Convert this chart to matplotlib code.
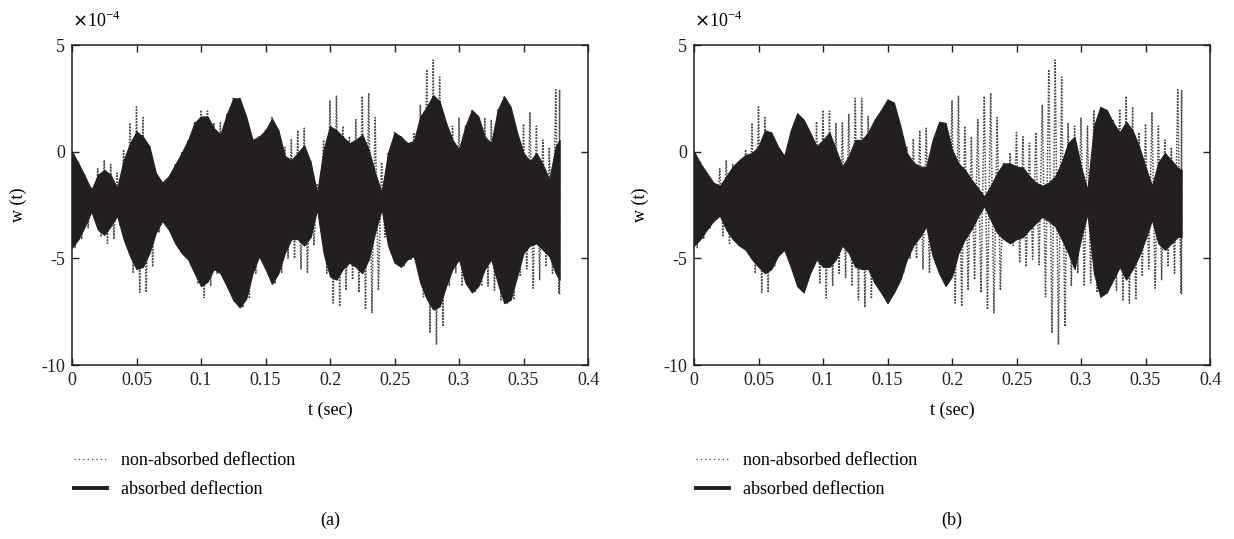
import numpy as np
import matplotlib
matplotlib.use("Agg")
import matplotlib.pyplot as plt
from matplotlib.lines import Line2D

plt.rcParams['font.family'] = ['Liberation Serif', 'DejaVu Serif']
plt.rcParams['axes.unicode_minus'] = False

# time grid (sec)
t_grid = [0.000, 0.005, 0.010, 0.015, 0.020, 0.025, 0.030, 0.035, 0.040, 0.045,
          0.050, 0.055, 0.060, 0.065, 0.070, 0.075, 0.080, 0.085, 0.090, 0.095,
          0.100, 0.105, 0.110, 0.115, 0.120, 0.125, 0.130, 0.135, 0.140, 0.145,
          0.150, 0.155, 0.160, 0.165, 0.170, 0.175, 0.180, 0.185, 0.190, 0.195,
          0.200, 0.205, 0.210, 0.215, 0.220, 0.225, 0.230, 0.235, 0.240, 0.245,
          0.250, 0.255, 0.260, 0.265, 0.270, 0.275, 0.280, 0.285, 0.290, 0.295,
          0.300, 0.305, 0.310, 0.315, 0.320, 0.325, 0.330, 0.335, 0.340, 0.345,
          0.350, 0.355, 0.360, 0.365, 0.370, 0.375, 0.378]

# non-absorbed deflection: envelope peaks / troughs (x1e-4)
nonabs_upper = [0.0, -0.5, -1.1, -1.7, -0.8, -0.4, -0.6, -1.0, 0.1, 1.35,
                2.1, 1.6, 0.3, -1.0, -1.45, -1.15, -0.6, -0.05, 0.55, 1.4,
                1.95, 1.9, 1.35, 1.35, 1.75, 2.5, 2.5, 1.65, 0.55, 0.7,
                1.0, 1.6, 1.0, 0.2, 0.6, 1.0, 1.1, -0.4, -1.5, 0.55,
                2.4, 2.6, 1.2, 0.7, 1.5, 2.6, 2.75, 1.6, -0.5, -0.05,
                0.9, 0.7, 0.4, 0.9, 2.2, 3.85, 4.3, 3.5, 1.35, 1.2,
                1.6, 1.2, 1.95, 1.65, 1.6, 1.5, 2.0, 2.6, 2.1, 0.9,
                1.3, 1.85, 1.2, 0.55, 0.2, 2.9, 2.9]
nonabs_lower = [-4.5, -4.1, -3.6, -2.9, -4.0, -4.3, -4.1, -3.5, -4.2, -5.7,
                -6.6, -6.6, -5.4, -3.8, -3.25, -3.65, -4.3, -4.75, -5.1, -6.2,
                -6.85, -6.3, -5.7, -5.9, -6.3, -6.95, -7.3, -6.9, -5.7, -4.9,
                -5.5, -6.2, -5.7, -5.0, -5.0, -5.5, -5.7, -4.4, -2.9, -5.7,
                -7.1, -7.25, -6.5, -6.0, -6.6, -7.4, -7.55, -6.5, -4.0, -4.4,
                -5.2, -5.4, -5.05, -5.3, -6.8, -8.5, -9.05, -8.2, -6.3, -5.7,
                -6.3, -6.15, -6.6, -6.3, -6.3, -6.5, -7.0, -7.1, -6.95, -5.85,
                -5.5, -6.4, -6.0, -5.4, -5.7, -6.65, -6.7]

# absorbed deflection, case (a)
abs_a_upper = [0.0, -0.55, -1.15, -1.8, -1.1, -0.85, -1.1, -1.7, -0.4, 0.4,
               0.95, 0.7, 0.25, -1.0, -1.45, -1.15, -0.6, -0.06, 0.55, 1.35,
               1.65, 1.65, 1.1, 0.8, 1.75, 2.5, 2.5, 1.65, 0.55, 0.7,
               1.0, 1.55, 1.0, -0.2, -0.4, -0.06, 0.3, -0.5, -1.95, 0.1,
               1.2, 1.0, 0.7, 0.4, 0.55, 0.8, 0.1, -1.0, -1.9, -0.06,
               0.9, 0.7, 0.4, 0.5, 1.65, 2.1, 2.65, 2.35, 1.35, 0.55,
               0.1, 1.2, 1.95, 1.65, 0.7, 0.4, 1.95, 2.6, 2.1, 0.9,
               -0.06, -0.45, -0.06, -0.6, -1.3, 0.25, 0.55]
abs_a_lower = [-4.5, -4.1, -3.5, -2.8, -3.65, -3.9, -3.5, -3.0, -4.1, -4.9,
               -5.5, -5.4, -4.75, -3.8, -3.25, -3.65, -4.3, -4.75, -5.05, -5.7,
               -6.3, -6.1, -5.5, -5.7, -6.3, -6.95, -7.3, -6.9, -5.7, -4.9,
               -5.5, -6.2, -5.7, -4.75, -4.1, -4.1, -4.4, -4.0, -2.7, -4.75,
               -5.85, -6.0, -5.5, -5.2, -5.4, -5.7, -5.05, -3.8, -2.7, -4.4,
               -5.2, -5.4, -5.05, -4.9, -6.15, -6.9, -7.4, -7.25, -6.3, -5.5,
               -5.05, -6.15, -6.6, -6.3, -5.5, -5.05, -6.15, -7.1, -6.95, -5.85,
               -4.75, -4.4, -4.3, -4.6, -4.9, -5.7, -6.0]

# absorbed deflection, case (b)
abs_b_upper = [0.0, -0.55, -1.0, -1.45, -1.6, -1.15, -0.7, -0.4, -0.15, -0.06,
               0.25, 1.0, 0.9, 0.25, -0.2, 1.0, 1.8, 1.5, 0.9, 0.25,
               0.55, 0.9, 0.1, -0.7, -0.2, 0.55, 0.55, 0.9, 1.5, 1.95,
               2.45, 2.3, 1.2, -0.06, -0.5, -0.7, -0.7, 0.55, 1.4, 1.35,
               0.1, -0.55, -0.85, -1.3, -1.7, -2.1, -1.6, -1.0, -0.55, -0.55,
               -0.7, -0.75, -1.15, -1.45, -1.6, -1.45, -1.15, -0.5, 0.4, 0.7,
               -0.7, -1.8, 1.2, 2.1, 1.95, 1.35, 0.9, 1.4, 1.0, 0.25,
               -0.7, -1.6, -0.5, -0.06, -0.4, -0.75, -0.85]
abs_b_lower = [-4.4, -4.1, -3.65, -3.25, -3.0, -3.65, -4.1, -4.4, -4.6, -5.05,
               -5.4, -5.7, -5.5, -4.9, -4.6, -5.4, -6.3, -6.6, -5.7, -5.05,
               -5.4, -5.4, -5.05, -4.4, -4.75, -5.4, -5.5, -5.5, -6.15, -6.6,
               -7.1, -6.6, -6.0, -5.05, -4.4, -4.0, -3.5, -4.9, -5.7, -6.3,
               -5.85, -4.75, -4.1, -3.65, -3.05, -2.55, -3.2, -3.8, -4.1, -4.3,
               -4.1, -4.0, -3.65, -3.35, -3.05, -3.25, -3.5, -4.1, -4.75, -5.5,
               -4.1, -2.9, -5.7, -6.8, -6.6, -6.0, -5.4, -6.0, -5.5, -4.9,
               -4.1, -3.2, -4.3, -4.6, -4.3, -4.0, -4.0]

x_ticks = [0, 0.05, 0.1, 0.15, 0.2, 0.25, 0.3, 0.35, 0.4]
x_tick_labels = ['0', '0.05', '0.1', '0.15', '0.2', '0.25', '0.3', '0.35', '0.4']
y_ticks = [5, 0, -5, -10]
y_tick_labels = ['5', '0', '-5', '-10']
panel_labels = ['(a)', '(b)']
legend_labels = ['non-absorbed deflection', 'absorbed deflection']

FS = 13
dark = '#231f20'

fig = plt.figure(figsize=(12.34, 5.39), dpi=100)
lefts = [72 / 1234, 694 / 1234]
W = 516 / 1234
B = 1 - 365 / 539
H = 320 / 539

t = np.array(t_grid)
t_trough = np.minimum(t + 0.0025, t[-1])
zig_t = np.empty(2 * len(t))
zig_t[0::2] = t
zig_t[1::2] = t_trough
zig_y = np.empty(2 * len(t))
zig_y[0::2] = nonabs_upper
zig_y[1::2] = nonabs_lower

for k, (up, lo) in enumerate([(abs_a_upper, abs_a_lower), (abs_b_upper, abs_b_lower)]):
    ax = fig.add_axes([lefts[k], B, W, H])
    ax.plot(zig_t, zig_y, color='#4a4a4a', lw=1.1, ls=(0, (1, 1)), zorder=2)
    ax.fill_between(t, lo, up, color=dark, lw=0.8, edgecolor=dark, zorder=3)
    ax.set_xlim(0, 0.4)
    ax.set_ylim(-10, 5)
    ax.set_xticks(x_ticks)
    ax.set_xticklabels(x_tick_labels)
    ax.set_yticks(y_ticks)
    ax.set_yticklabels(y_tick_labels)
    ax.tick_params(direction='in', length=5, width=1, top=True, right=True,
                   labelsize=FS, pad=5, colors='#231f20')
    for s in ax.spines.values():
        s.set_linewidth(1.1)
        s.set_color('#231f20')
    ax.set_xlabel('t (sec)', fontsize=FS, labelpad=9)
    ax.set_ylabel('w (t)', fontsize=FS, labelpad=10)
    ax.text(0.0, 1.045, r'$\times$10$^{\mathregular{-4}}$', transform=ax.transAxes,
            fontsize=FS, ha='left', va='bottom')
    handles = [Line2D([], [], color='#444444', lw=0.9, ls=(0, (1, 2.5))),
               Line2D([], [], color=dark, lw=2.8)]
    fig.legend(handles, legend_labels, loc='upper left',
               bbox_to_anchor=(lefts[k] - 14 / 1234, 1 - 436 / 539),
               frameon=False, fontsize=FS, handlelength=1.8, handletextpad=0.8,
               labelspacing=0.65)
    fig.text(lefts[k] + W / 2, 1 - 520 / 539, panel_labels[k], fontsize=FS,
             ha='center', va='center')

fig.savefig('out.png', dpi=100)
